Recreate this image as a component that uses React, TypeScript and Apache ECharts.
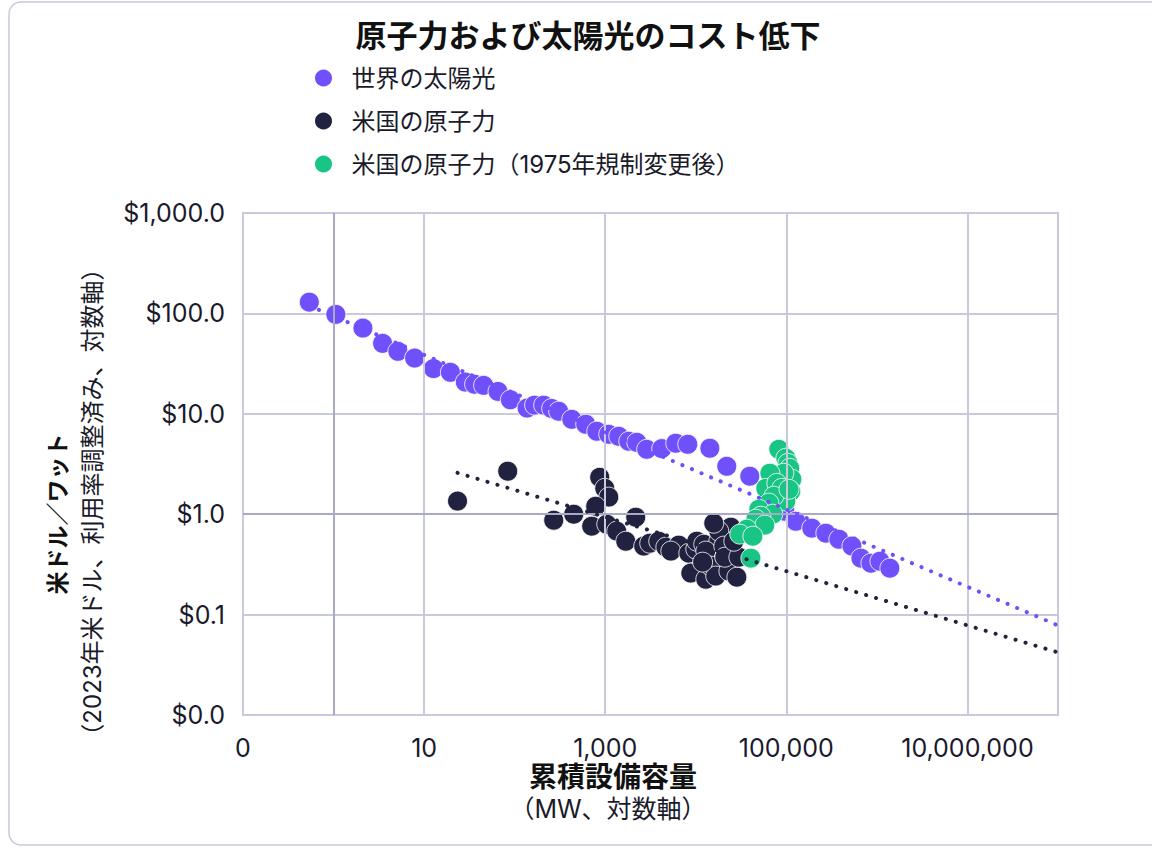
import React, { useEffect, useRef } from "react";
import * as echarts from "echarts";

// Global solar PV: cumulative installed capacity (MW) and cost (2023 USD/W)
const solarCapacityMW = [
  0.54, 1.06, 2.11, 3.48, 5.13, 7.85, 12.7, 19.5, 28.5, 36.1, 45.4, 65.4, 89.6, 137, 166,
  209, 256, 306, 427, 609, 806, 1093, 1410, 1820, 2230, 2870, 4210, 6010, 8160, 14300,
  22000, 39500, 67400, 96200, 127000, 191000, 273000, 380000, 530000, 666000, 859000,
  1080000, 1390000,
];
const solarCost = [
  129.5, 97.7, 71.4, 50.3, 41.9, 35.9, 28.2, 25.9, 20.7, 19.7, 19.2, 16.7, 13.8, 11.4, 12.2,
  12.2, 11.3, 10.6, 8.81, 7.87, 6.7, 6.25, 5.97, 5.33, 5.2, 4.43, 4.5, 5.09, 4.97, 4.54,
  3.0, 2.39, 1.44, 1.07, 0.851, 0.726, 0.647, 0.563, 0.481, 0.365, 0.325,
  0.34, 0.29,
];

// US nuclear (before the 1975 regulatory change)
const nuclearCapacityMW = [
  23.4, 83.8, 270, 449, 709, 869, 988, 1094, 785, 1040, 1340, 1686, 2173, 2660, 3100, 3900,
  4670, 6490, 5300, 8370, 10000, 10260, 12250, 17950, 24400, 17950, 12900, 8810, 12900,
  14650, 16600, 15800, 20400, 23200, 28400, 20900, 29900, 11900, 26300,
];
const nuclearCost = [
  1.35, 2.68, 0.871, 1.0, 0.76, 2.33, 1.81, 1.48, 1.2, 0.794, 0.678, 0.538, 0.933, 0.481,
  0.514, 0.538, 0.47, 0.492, 0.429, 0.409, 0.449, 0.538, 0.502, 0.538, 0.743, 0.678, 0.429,
  0.259, 0.225, 0.304, 0.242, 0.813, 0.481, 0.271, 0.236, 0.373, 0.373, 0.333, 0.538,
];

// US nuclear after the 1975 regulatory change
const postCapacityMW = [
  82600, 98700, 104000, 109000, 115000, 93800, 65800, 59300, 78500, 89100, 112000, 98700,
  72800, 64100, 49700, 70900, 52300, 46000, 57800, 36600, 30600, 42700, 40600, 107000,
];
const postCost = [
  4.43, 3.61, 3.21, 2.87, 2.23, 2.56, 2.56, 1.81, 2.03, 1.81, 1.69, 1.35,
  1.51, 1.29, 1.12, 1.0, 0.955, 0.891, 0.778, 0.71, 0.633, 0.604, 0.365, 1.77,
];

// Power-law trend lines (end points), extended to 100,000,000 MW
const solarTrendMW = [0.54, 1e8];
const solarTrendCost = [119, 0.078];
const nuclearTrendMW = [23.4, 1e8];
const nuclearTrendCost = [2.58, 0.042];

// Axis ranges and gridline positions
const xRange = [0.1, 1e8];
const yRange = [0.01, 1000];
const xLabelExponents = [-1, 1, 3, 5, 7];
const xGridValues = [10, 1000, 100000, 10000000];

const SERIES_NAMES = ["世界の太陽光", "米国の原子力", "米国の原子力（1975年規制変更後）"];
const COLORS = { solar: "#7050FA", nuclear: "#212140", post: "#18C585" };
const GRID = "#C8C9DA";
const AXIS = "#A9ABC6";
const FONT = 'Inter, "Noto Sans CJK JP", sans-serif';
const TEXT = "#1A1A2A";

const zip = (xs: number[], ys: number[]) => xs.map((x, i) => [x, ys[i]]);

export default function App() {
  const ref = useRef<HTMLDivElement>(null);

  useEffect(() => {
    if (!ref.current) return;
    const chart = echarts.init(ref.current, undefined, { renderer: "svg" });

    const scatterBase = {
      type: "scatter" as const,
      symbol: "circle",
      symbolSize: 20,
      itemStyle: { borderColor: "#ffffff", borderWidth: 0.8, opacity: 1 },
    };
    const trendLine = (color: string) => ({
      type: "line" as const,
      showSymbol: false,
      symbol: "none",
      silent: true,
      z: 5,
      lineStyle: { color, width: 4, type: [0.1, 10.3], cap: "round" as const },
    });

    chart.setOption({
      animation: false,
      textStyle: { fontFamily: FONT },
      grid: {
        left: 243,
        right: 94,
        top: 213,
        bottom: 133,
        show: true,
        borderColor: GRID,
        borderWidth: 2,
        containLabel: false,
      },
      legend: {
        data: SERIES_NAMES,
        orient: "vertical",
        left: 308,
        top: 60,
        icon: "circle",
        itemWidth: 46,
        itemHeight: 19,
        itemGap: 17,
        textStyle: { fontSize: 24, color: TEXT, fontFamily: FONT, lineHeight: 26 },
      },
      xAxis: {
        type: "log",
        logBase: 10,
        min: xRange[0],
        max: xRange[1],
        splitNumber: 9,
        axisLine: { show: false },
        axisTick: { show: false },
        splitLine: { show: false },
        axisLabel: {
          margin: 20,
          fontSize: 25,
          color: TEXT,
          fontFamily: FONT,
          showMaxLabel: true,
          showMinLabel: true,
          formatter: (v: number) => {
            const e = Math.round(Math.log10(v));
            if (!xLabelExponents.includes(e)) return "";
            if (e < 0) return "0";
            return Math.pow(10, e).toLocaleString("en-US");
          },
        },
      },
      yAxis: {
        type: "log",
        logBase: 10,
        min: yRange[0],
        max: yRange[1],
        axisLine: { show: false },
        axisTick: { show: false },
        splitLine: { show: true, lineStyle: { color: GRID, width: 2 } },
        axisLabel: {
          margin: 18,
          fontSize: 25,
          color: TEXT,
          fontFamily: FONT,
          formatter: (v: number) =>
            "$" +
            v.toLocaleString("en-US", { minimumFractionDigits: 1, maximumFractionDigits: 1 }),
        },
      },
      graphic: [
        {
          type: "rect",
          silent: true,
          z: -10,
          shape: { x: 9, y: 2, width: 1170, height: 843, r: 12 },
          style: { fill: "none", stroke: GRID, lineWidth: 1.5 },
        },
        {
          type: "text",
          x: 588,
          y: 35,
          style: {
            text: "原子力および太陽光のコスト低下",
            fontSize: 31,
            fontWeight: "bold",
            fontFamily: FONT,
            fill: "#111111",
            align: "center",
            verticalAlign: "middle",
          },
        },
        {
          type: "text",
          x: 58,
          y: 514,
          rotation: Math.PI / 2,
          style: {
            text: "米ドル／ワット",
            fontSize: 23,
            fontWeight: "bold",
            fontFamily: FONT,
            fill: "#111111",
            align: "center",
            verticalAlign: "middle",
          },
        },
        {
          type: "text",
          x: 92,
          y: 502,
          rotation: Math.PI / 2,
          style: {
            text: "（2023年米ドル、利用率調整済み、対数軸）",
            fontSize: 24,
            fontFamily: FONT,
            fill: TEXT,
            align: "center",
            verticalAlign: "middle",
          },
        },
        {
          type: "text",
          x: 613,
          y: 777,
          style: {
            text: "累積設備容量",
            fontSize: 28,
            fontWeight: "bold",
            fontFamily: FONT,
            fill: "#111111",
            align: "center",
            verticalAlign: "middle",
          },
        },
        {
          type: "text",
          x: 608,
          y: 809,
          style: {
            text: "（MW、対数軸）",
            fontSize: 25,
            fontFamily: FONT,
            fill: TEXT,
            align: "center",
            verticalAlign: "middle",
          },
        },
      ],
      series: [
        {
          // axis crossing lines and major vertical gridlines
          name: "grid-lines",
          type: "scatter",
          data: [],
          z: 1,
          silent: true,
          markLine: {
            silent: true,
            symbol: "none",
            label: { show: false },
            animation: false,
            data: [
              ...xGridValues.map((v) => ({ xAxis: v, lineStyle: { color: GRID, width: 2, type: "solid" } })),
              { xAxis: 1, lineStyle: { color: AXIS, width: 2, type: "solid" } },
              { yAxis: 1, lineStyle: { color: AXIS, width: 2, type: "solid" } },
            ],
          },
        },
        {
          ...scatterBase,
          name: SERIES_NAMES[0],
          itemStyle: { ...scatterBase.itemStyle, color: COLORS.solar },
          data: zip(solarCapacityMW, solarCost),
          z: 2,
        },
        {
          ...scatterBase,
          name: SERIES_NAMES[1],
          itemStyle: { ...scatterBase.itemStyle, color: COLORS.nuclear },
          data: zip(nuclearCapacityMW, nuclearCost),
          z: 3,
        },
        {
          ...scatterBase,
          name: SERIES_NAMES[2],
          itemStyle: { ...scatterBase.itemStyle, color: COLORS.post },
          data: zip(postCapacityMW, postCost),
          z: 4,
        },
        {
          ...trendLine(COLORS.solar),
          name: "solar-trend",
          data: zip(solarTrendMW, solarTrendCost),
        },
        {
          ...trendLine(COLORS.nuclear),
          name: "nuclear-trend",
          data: zip(nuclearTrendMW, nuclearTrendCost),
        },
      ],
    });

    return () => chart.dispose();
  }, []);

  return (
    <div
      ref={ref}
      style={{ position: "absolute", left: 0, top: 0, width: 1152, height: 848, background: "#ffffff" }}
    />
  );
}
